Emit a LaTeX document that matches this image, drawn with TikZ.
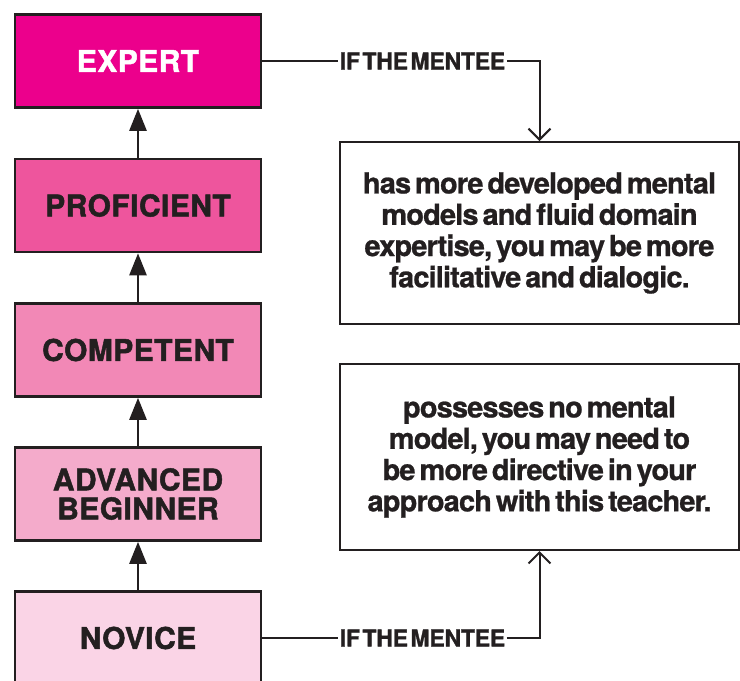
\documentclass[tikz,border=0pt]{standalone}
\usepackage{fontspec}
\setmainfont{TeX Gyre Heros}
\newfontfamily\stagefont[LetterSpace=1.5,FakeBold=1.6]{TeX Gyre Heros}
\newfontfamily\notefont[LetterSpace=-3,WordSpace=0.55,FakeBold=0.8]{TeX Gyre Heros}
\newfontfamily\menteefont[LetterSpace=-1,WordSpace=0.4,FakeBold=1.4]{TeX Gyre Heros}
\usetikzlibrary{arrows.meta}

\definecolor{ink}{HTML}{231F20}
\definecolor{expertpink}{HTML}{EC008C}
\definecolor{proficientpink}{HTML}{EE559D}
\definecolor{competentpink}{HTML}{F288B6}
\definecolor{advancedpink}{HTML}{F4ABCB}
\definecolor{novicepink}{HTML}{FAD4E6}

\tikzset{
  stage/.style={draw=ink, line width=2.6pt, minimum width=246pt, minimum height=93pt,
    inner sep=0pt, align=center, text=ink,
    font=\stagefont\bfseries\fontsize{30}{29}\selectfont},
  note/.style={draw=ink, line width=2pt, minimum width=399pt, align=center, text=ink,
    font=\notefont\bfseries\fontsize{29}{31.3}\selectfont},
  mentee/.style={inner sep=1.5pt, text=ink,
    font=\menteefont\bfseries\fontsize{23}{24}\selectfont},
  stair/.style={draw=ink, line width=2.6pt, -{Triangle[width=17pt,length=22pt]}},
  link/.style={draw=ink, line width=2pt},
  tip/.style={-{Straight Barb[width=22pt,length=11pt]}},
}

\begin{document}
\begin{tikzpicture}[x=1pt,y=-1pt]
      \useasboundingbox (0,0) rectangle (740,681);

      % stages, from top to bottom
      \node[stage,fill=expertpink,text=white](expert) at (138, 61) {EXPERT};
      \node[stage,fill=proficientpink](proficient) at (138, 205.5) {PROFICIENT};
      \node[stage,fill=competentpink](competent) at (138, 350) {COMPETENT};
      \node[stage,fill=advancedpink](advanced) at (138, 494) {ADVANCED\\BEGINNER};
      \node[stage,fill=novicepink](novice) at (138, 638) {NOVICE};

      \foreach \s/\t in {novice/advanced, advanced/competent, competent/proficient, proficient/expert} {
        \draw[stair] (\s) -- (\t);
      }

      % notes on the right
      \node[note,minimum height=182pt](fluid) at (539.5, 233) {has more developed mental\\models and fluid domain\\expertise, you may be more\\facilitative and dialogic.};
      \node[note,minimum height=186pt](directive) at (539.5, 457) {possesses no mental\\model, you may need to\\be more directive in your\\approach with this teacher.};

      \node[mentee](menteetop) at (422.5, 61) {IF THE MENTEE};
      \node[mentee](menteebottom) at (422.5, 638) {IF THE MENTEE};

      \draw[link] (expert) -- (menteetop);
      \draw[link,tip] (menteetop) -| (fluid);
      \draw[link] (novice) -- (menteebottom);
      \draw[link,tip] (menteebottom) -| (directive);
    \end{tikzpicture}
\end{document}
